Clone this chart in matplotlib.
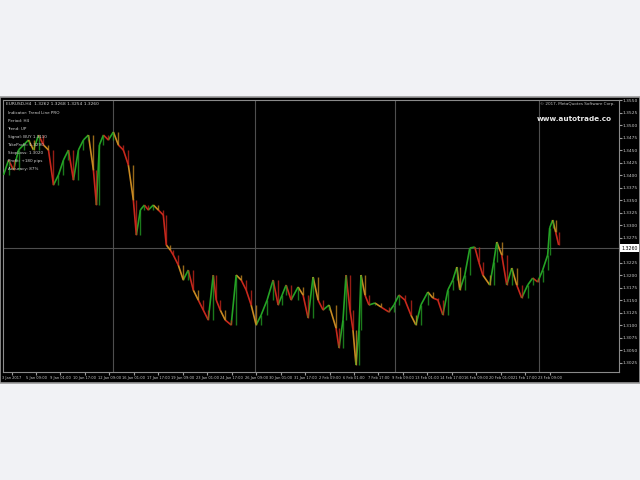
import numpy as np
import matplotlib.pyplot as plt
from matplotlib.collections import LineCollection
from matplotlib.patches import Rectangle

# бары (время) и цены закрытия
bars = [0, 5, 10, 15, 20, 25, 30, 35, 40, 45, 50, 55, 60, 65, 70, 75, 80, 85, 90, 93,
        96, 100, 105, 110, 115, 120, 125, 130, 133, 137, 141, 145, 150, 155, 160, 163, 167, 170, 175, 180,
        185, 190, 195, 200, 205, 210, 213, 217, 222, 228, 233, 238, 243, 248, 253, 258, 264, 270, 275, 279,
        283, 288, 295, 300, 305, 310, 315, 320, 326, 333, 336, 340, 343, 347, 350, 353, 356, 358, 362, 366,
        372, 378, 386, 391, 396, 402, 408, 413, 418, 425, 430, 435, 440, 445, 450, 454, 457, 462, 467, 472,
        476, 480, 487, 491, 494, 499, 504, 509, 514, 519, 525, 530, 535, 540, 545, 547, 550, 553, 556]
closes = [1.3400, 1.3430, 1.3410, 1.3450, 1.3460, 1.3470, 1.3450, 1.3480, 1.3460, 1.3450,
          1.3380, 1.3400, 1.3430, 1.3450, 1.3390, 1.3450, 1.3470, 1.3480, 1.3410, 1.3340,
          1.3460, 1.3480, 1.3470, 1.3486, 1.3460, 1.3450, 1.3420, 1.3350, 1.3280, 1.3330,
          1.3340, 1.3330, 1.3340, 1.3330, 1.3320, 1.3260, 1.3250, 1.3240, 1.3220, 1.3190,
          1.3210, 1.3170, 1.3150, 1.3130, 1.3110, 1.3200, 1.3150, 1.3130, 1.3110, 1.3100,
          1.3200, 1.3190, 1.3170, 1.3140, 1.3100, 1.3120, 1.3150, 1.3190, 1.3140, 1.3160,
          1.3180, 1.3150, 1.3176, 1.3160, 1.3114, 1.3196, 1.3150, 1.3130, 1.3140, 1.3094,
          1.3054, 1.3110, 1.3200, 1.3130, 1.3090, 1.3020, 1.3090, 1.3200, 1.3160, 1.3140,
          1.3144, 1.3136, 1.3126, 1.3140, 1.3160, 1.3150, 1.3120, 1.3100, 1.3140, 1.3166,
          1.3154, 1.3150, 1.3120, 1.3170, 1.3190, 1.3216, 1.3170, 1.3200, 1.3254, 1.3256,
          1.3226, 1.3200, 1.3180, 1.3226, 1.3266, 1.3240, 1.3180, 1.3214, 1.3180, 1.3154,
          1.3180, 1.3194, 1.3186, 1.3210, 1.3240, 1.3294, 1.3310, 1.3286, 1.3260]

current_price = 1.3254
price_ticks = [1.3550 - 0.0025 * i for i in range(22)]
price_ticks = [p for p in price_ticks if abs(p - current_price) > 0.0012]
date_labels = ['3 Jan 2017', '5 Jan 09:00', '9 Jan 01:00', '10 Jan 17:00', '12 Jan 09:00',
               '16 Jan 01:00', '17 Jan 17:00', '19 Jan 09:00', '23 Jan 01:00', '24 Jan 17:00',
               '26 Jan 09:00', '30 Jan 01:00', '31 Jan 17:00', '2 Feb 09:00', '6 Feb 01:00',
               '7 Feb 17:00', '9 Feb 09:00', '13 Feb 01:00', '14 Feb 17:00', '16 Feb 09:00',
               '20 Feb 01:00', '21 Feb 17:00', '23 Feb 09:00']
info_lines = ['Indicator: Trend Line PRO', 'Period: H4', 'Trend: UP', 'Signal: BUY 1.3110',
              'TakeProfit: 1.3290', 'StopLoss: 1.3020', 'Profit: +180 pips', 'Accuracy: 87%']

GREEN = '#25a325'
RED = '#c8281c'
ORANGE = '#c98a22'

fig = plt.figure(figsize=(6.4, 4.8), dpi=100)
fig.patch.set_facecolor('#f1f2f5')

# чёрная панель терминала
fig.patches.append(Rectangle((0, 97 / 480), 1, 286 / 480, transform=fig.transFigure,
                             facecolor='black', edgecolor='#9a9a9a', linewidth=1.2, zorder=-5))

ax = fig.add_axes([0.004, 108 / 480, 616 / 640, 272 / 480])
ax.set_zorder(2)
ax.set_facecolor('black')
for s in ax.spines.values():
    s.set_color('#8a8a8a')
    s.set_linewidth(0.8)

# отрезки цены: зелёный - рост, красный/оранжевый - падение
segs = []
cols = []
for i in range(1, len(bars)):
    segs.append([(bars[i - 1], closes[i - 1]), (bars[i], closes[i])])
    if closes[i] >= closes[i - 1]:
        cols.append(GREEN)
    else:
        cols.append(RED if i % 3 else ORANGE)
ax.add_collection(LineCollection(segs, colors=cols, linewidths=1.2, zorder=3))
ax.vlines(bars[1:], np.minimum(closes[1:], closes[:-1]), np.maximum(closes[1:], closes[:-1]),
          colors=cols, linewidth=1.0, alpha=0.75, zorder=3)

ax.set_xlim(-1, 616)
ax.set_ylim(1.3006, 1.3550)

# сетка
for gx in [110, 252, 392, 536]:
    ax.axvline(gx, color='#4e4e4e', linewidth=0.8, zorder=1)
ax.axhline(current_price, color='#4e4e4e', linewidth=0.8, zorder=1)

ax.yaxis.tick_right()
ax.set_yticks(price_ticks)
ax.set_yticklabels(['%.4f' % p for p in price_ticks], fontsize=3.2, color='#c8c8c8')
ax.tick_params(axis='y', length=2, color='#9a9a9a', pad=1)
ax.set_xticks([8 + 24.5 * i for i in range(len(date_labels))])
ax.set_xticklabels(date_labels, fontsize=2.6, color='#c8c8c8')
ax.tick_params(axis='x', length=2, color='#9a9a9a', pad=1)

# метка текущей цены
ax.text(1.004, current_price, '1.3260', transform=ax.get_yaxis_transform(), fontsize=3.4,
        color='black', va='center', ha='left',
        bbox=dict(boxstyle='square,pad=0.25', facecolor='white', edgecolor='none'))

# заголовок и инфо-панель
ax.text(2, 1.3546, 'EURUSD,H4  1.3262 1.3268 1.3254 1.3260', fontsize=3.2, color='#d0d0d0',
        va='top', ha='left')
for k, line in enumerate(info_lines):
    ax.text(4, 1.3528 - k * 0.0016, line, fontsize=3.0, color='#d0d0d0', va='top', ha='left', zorder=5)
ax.text(612, 1.3546, '\u00a9 2017, MetaQuotes Software Corp.', fontsize=3.0, color='#c0c0c0',
        va='top', ha='right')
ax.text(534, 1.3512, 'www.autotrade.co', fontsize=5.2, color='#e8e8e8', va='center', ha='left',
        fontweight='bold')

fig.savefig('out.png', dpi=100, facecolor=fig.get_facecolor())
